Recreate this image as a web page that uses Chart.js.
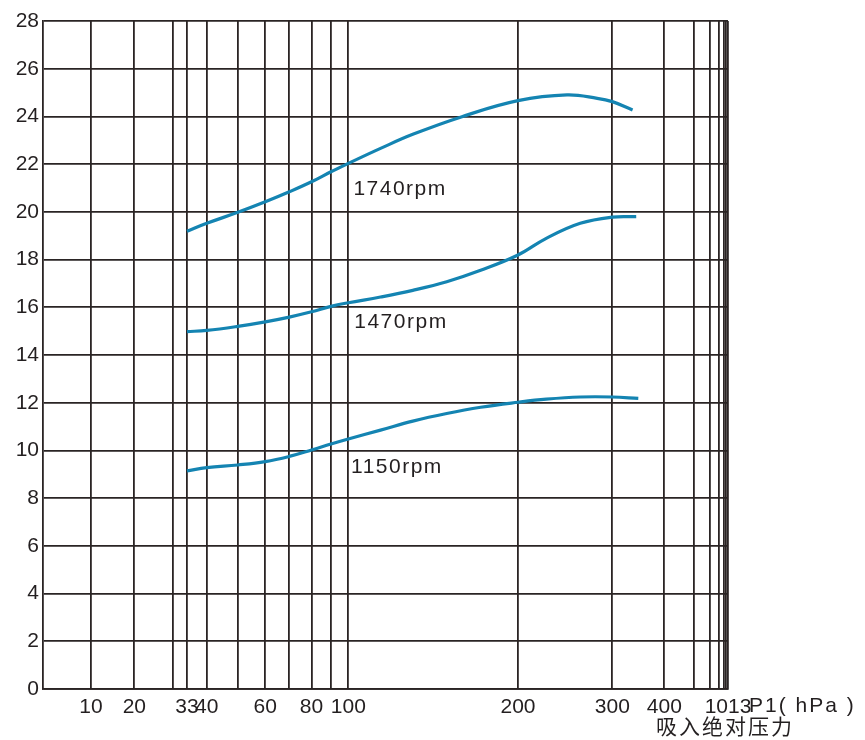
<!DOCTYPE html>
<html>
<head>
<meta charset="utf-8">
<script src="https://cdn.jsdelivr.net/npm/chart.js@4.4.0/dist/chart.umd.min.js"></script>
<style>
html,body{margin:0;padding:0;background:#ffffff;}
#wrap{width:865px;height:740px;position:relative;}
</style>
</head>
<body>
<div id="wrap"><canvas id="c" width="865" height="740"></canvas></div>
<script>
// ---------- data ----------
const gridPressures = [10,20,30,33,40,50,60,70,80,90,100,200,300,400,500,600,700,800,900,1013];
const labeledPressures = [10,20,33,40,60,80,100,200,300,400,1013];
const headTicks = [0,2,4,6,8,10,12,14,16,18,20,22,24,26,28];

const seriesNames = ['1740rpm','1470rpm','1150rpm'];

const pressure1740 = [33,40,50,60,70,80,90,100,119,138,167,200,252,284,300,339];
const value1740    = [19.19,19.52,19.98,20.42,20.84,21.26,21.68,22.03,22.66,23.25,23.99,24.66,24.90,24.76,24.62,24.27];

const pressure1470 = [33,40,50,60,70,80,90,100,119,138,158,178,200,230,266,300,346];
const value1470    = [14.98,15.03,15.20,15.39,15.59,15.81,16.04,16.19,16.43,16.71,17.07,17.55,18.19,18.89,19.52,19.78,19.80];

const pressure1150 = [33,40,50,60,70,80,90,100,119,138,158,178,200,230,266,300,350];
const value1150    = [9.14,9.28,9.39,9.53,9.75,10.02,10.27,10.48,10.85,11.23,11.55,11.81,12.02,12.15,12.24,12.24,12.18];

// ---------- non-uniform pressure axis (value -> fraction of axis length) ----------
const axisKnots = [
  [0,0],[10,0.0701],[20,0.1333],[30,0.1893],[33,0.2102],[40,0.2391],[50,0.2844],
  [60,0.3245],[70,0.3596],[80,0.3920],[90,0.4204],[100,0.4457],[200,0.6934],
  [300,0.8311],[400,0.9070],[500,0.9499],[600,0.9733],[700,0.9864],[800,0.9934],
  [900,0.9971],[1013,1]
];
function toFrac(v){
  if (v <= axisKnots[0][0]) return axisKnots[0][1];
  for (let i = 1; i < axisKnots.length; i++){
    if (v <= axisKnots[i][0]){
      const [v0,f0] = axisKnots[i-1], [v1,f1] = axisKnots[i];
      return f0 + (f1-f0)*(v-v0)/(v1-v0);
    }
  }
  return 1;
}
function fromFrac(f){
  if (f <= 0) return 0;
  for (let i = 1; i < axisKnots.length; i++){
    if (f <= axisKnots[i][1]){
      const [v0,f0] = axisKnots[i-1], [v1,f1] = axisKnots[i];
      return v0 + (v1-v0)*(f-f0)/(f1-f0);
    }
  }
  return 1013;
}
class WarpedScale extends Chart.Scale {
  determineDataLimits(){ this.min = 0; this.max = 1013; }
  buildTicks(){ return gridPressures.map(v => ({value: v})); }
  getLabelForValue(v){ return String(v); }
  getPixelForValue(v){ return this.getPixelForDecimal(toFrac(v)); }
  getPixelForTick(i){
    const t = this.ticks;
    if (i < 0 || i >= t.length) return null;
    return this.getPixelForValue(t[i].value);
  }
  getValueForPixel(p){ return fromFrac(this.getDecimalForPixel(p)); }
}
WarpedScale.id = 'warped';
WarpedScale.defaults = {};
Chart.register(WarpedScale);

const toPoints = (xs, ys) => xs.map((x,i) => ({x: x, y: ys[i]}));

const lineColor = '#1484b2';
const gridColor = '#2a2424';
const textColor = '#231f20';
const fontFamily = '"Liberation Sans", Arial, Helvetica, sans-serif';

const curveLabels = [
  {text: seriesNames[0], x: 103, y: 20.96},
  {text: seriesNames[1], x: 103.5, y: 15.36},
  {text: seriesNames[2], x: 101.6, y: 9.28}
];

const textPlugin = {
  id: 'extraText',
  afterDraw(chart){
    const ctx = chart.ctx;
    const xs = chart.scales.x, ys = chart.scales.y;
    ctx.save();
    ctx.fillStyle = textColor;
    ctx.font = '21px ' + fontFamily;
    ctx.letterSpacing = '1.5px';
    ctx.textAlign = 'left';
    ctx.textBaseline = 'middle';
    curveLabels.forEach(l => {
      ctx.fillText(l.text, xs.getPixelForValue(l.x), ys.getPixelForValue(l.y));
    });
    // axis unit
    const xEnd = xs.getPixelForValue(1013);
    ctx.letterSpacing = '2px';
    ctx.fillText('P1( hPa )', xEnd + 21, 706);
    ctx.font = '21px "Noto Sans CJK SC", sans-serif';
    ctx.letterSpacing = '2px';
    ctx.textAlign = 'center';
    ctx.fillText('吸入绝对压力', xEnd - 3, 726);
    ctx.restore();
  }
};

const mkSet = (name, xs, ys) => ({
  label: name,
  data: toPoints(xs, ys),
  borderColor: lineColor,
  backgroundColor: lineColor,
  borderWidth: 3.2,
  pointRadius: 0,
  tension: 0.4,
  fill: false
});

new Chart(document.getElementById('c'), {
  type: 'line',
  data: {
    datasets: [
      mkSet(seriesNames[0], pressure1740, value1740),
      mkSet(seriesNames[1], pressure1470, value1470),
      mkSet(seriesNames[2], pressure1150, value1150)
    ]
  },
  options: {
    responsive: false,
    animation: false,
    devicePixelRatio: 1,
    layout: {padding: {top: 21, right: 137, left: 0, bottom: 0}},
    plugins: {legend: {display: false}, tooltip: {enabled: false}},
    scales: {
      x: {
        type: 'warped',
        position: 'bottom',
        grid: {color: gridColor, lineWidth: 1.8, drawTicks: false},
        border: {display: true, color: gridColor, width: 1.8},
        ticks: {
          autoSkip: false, maxRotation: 0, minRotation: 0, padding: 6,
          color: textColor, font: {family: fontFamily, size: 21},
          callback: (v) => labeledPressures.includes(v) ? String(v) : ''
        },
        afterFit: (s) => { s.height = 51; s.paddingLeft = 0; s.paddingRight = 0; }
      },
      y: {
        type: 'linear',
        min: 0, max: 28,
        afterBuildTicks: (s) => { s.ticks = headTicks.map(v => ({value: v})); },
        grid: {color: gridColor, lineWidth: 1.8, drawTicks: false},
        border: {display: true, color: gridColor, width: 1.8},
        ticks: {padding: 4, color: textColor, font: {family: fontFamily, size: 21}},
        afterFit: (s) => { s.width = 43; s.paddingTop = 0; s.paddingBottom = 0; }
      }
    }
  },
  plugins: [textPlugin]
});
</script>
</body>
</html>
